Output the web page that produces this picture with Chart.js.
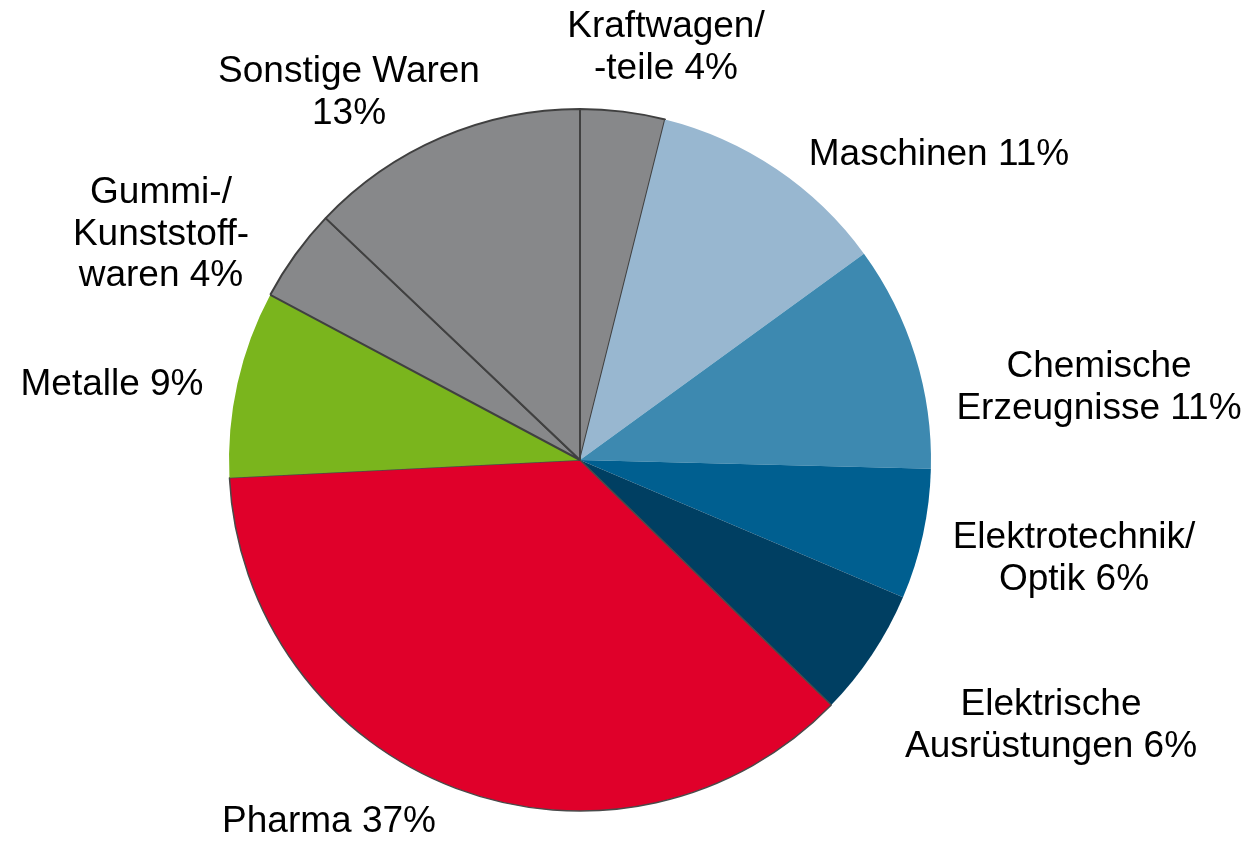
<!DOCTYPE html>
<html lang="de">
<head>
<meta charset="utf-8">
<title>Exportstruktur</title>
<script src="https://cdn.jsdelivr.net/npm/chart.js@4.4.1/dist/chart.umd.min.js"></script>
<style>
  html, body { margin: 0; padding: 0; background: #ffffff; }
  #wrap { width: 1250px; height: 846px; position: relative; }
</style>
</head>
<body>
<div id="wrap"><canvas id="pieChart" width="1250" height="846"></canvas></div>
<script>
// Daten (im Uhrzeigersinn ab 12 Uhr)
const categories = [
    'Kraftwagen/-teile', 'Maschinen', 'Chemische Erzeugnisse', 'Elektrotechnik/Optik',
    'Elektrische Ausrüstungen', 'Pharma', 'Metalle', 'Gummi-/Kunststoffwaren', 'Sonstige Waren'
];
const shares = [3.9, 11.1, 10.4, 6.0, 5.9, 36.9, 8.6, 4.3, 12.9];
const labelLines = [
    ['Kraftwagen/', '-teile 4%'],
    ['Maschinen 11%'],
    ['Chemische', 'Erzeugnisse 11%'],
    ['Elektrotechnik/', 'Optik 6%'],
    ['Elektrische', 'Ausrüstungen 6%'],
    ['Pharma 37%'],
    ['Metalle 9%'],
    ['Gummi-/', 'Kunststoff-', 'waren 4%'],
    ['Sonstige Waren', '13%']
];

// Farben / Layout
const sliceColors = ['#87888a', '#98b7d0', '#3d89b0', '#005f90', '#003f62', '#e0002a', '#7ab51d', '#87888a', '#87888a'];
const edgeColors  = ['#404040', '#98b7d0', '#3d89b0', '#005f90', '#003f62', '#4a4a4a', '#7ab51d', '#404040', '#404040'];
const edgeWidths  = [2, 0, 0, 0, 0, 1.5, 0, 2, 2];

// Label-Anker (Mitte, Grundlinie der ersten Zeile)
const labelAnchors = [
    [666, 37], [939, 165], [1099, 377], [1074, 548], [1051, 715],
    [329, 832], [112, 395], [161, 203], [349, 82]
];
const LINE_HEIGHT = 41.5;

const sliceLabels = {
    id: 'sliceLabels',
    afterDraw(chart) {
        const ctx = chart.ctx;
        ctx.save();
        ctx.font = '37px "Liberation Sans", Arial, sans-serif';
        ctx.fillStyle = '#000000';
        ctx.textAlign = 'center';
        ctx.textBaseline = 'alphabetic';
        labelLines.forEach((lines, i) => {
            const [x, y] = labelAnchors[i];
            lines.forEach((line, j) => ctx.fillText(line, x, y + j * LINE_HEIGHT));
        });
        ctx.restore();
    }
};

new Chart(document.getElementById('pieChart').getContext('2d'), {
    type: 'pie',
    data: {
        labels: categories,
        datasets: [{
            data: shares,
            backgroundColor: sliceColors,
            borderColor: edgeColors,
            borderWidth: edgeWidths,
            hoverOffset: 0
        }]
    },
    options: {
        responsive: false,
        animation: false,
        rotation: 0,
        layout: { padding: { left: 228, right: 318, top: 108, bottom: 34 } },
        plugins: {
            legend: { display: false },
            tooltip: { enabled: false }
        }
    },
    plugins: [sliceLabels]
});
</script>
</body>
</html>
